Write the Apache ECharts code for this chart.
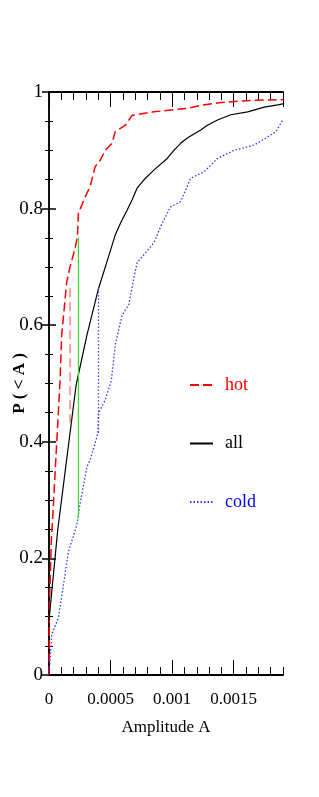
<!DOCTYPE html>
<html>
<head>
<meta charset="utf-8">
<script src="https://cdn.jsdelivr.net/npm/echarts@6/dist/echarts.min.js"></script>
<style>
html,body{margin:0;padding:0;background:#fff;}
#c{width:319px;height:797px;}
</style>
</head>
<body>
<div id="c"></div>
<script>
// ---- data ----
const hotX  = [0, 0.000003, 0.000020, 0.000033, 0.000063, 0.000090, 0.000103, 0.000144, 0.000171, 0.000212, 0.000231, 0.000239, 0.000294, 0.000334, 0.000375, 0.000416, 0.000457, 0.000511, 0.000538, 0.000620, 0.000675, 0.000851, 0.001123, 0.001232, 0.001395, 0.001666, 0.001909];
const hotY  = [0, 0.12, 0.235, 0.28, 0.40, 0.506, 0.583, 0.674, 0.70, 0.732, 0.752, 0.792, 0.820, 0.838, 0.872, 0.883, 0.900, 0.912, 0.932, 0.943, 0.960, 0.966, 0.972, 0.977, 0.982, 0.986, 0.987];
const allX  = [0, 0.0000710, 0.000220, 0.000308, 0.000402, 0.000471, 0.000538, 0.000585, 0.000634, 0.000675, 0.000715, 0.000769, 0.000851, 0.000960, 0.001014, 0.001069, 0.001123, 0.001232, 0.001286, 0.001368, 0.001476, 0.001613, 0.001748, 0.001857, 0.001909];
const allY  = [0.094, 0.249, 0.497, 0.583, 0.663, 0.709, 0.755, 0.777, 0.797, 0.815, 0.835, 0.849, 0.866, 0.886, 0.900, 0.912, 0.921, 0.935, 0.943, 0.952, 0.961, 0.966, 0.974, 0.978, 0.980];
const coldX = [0, 0.000022, 0.000076, 0.000117, 0.000157, 0.000226, 0.000253, 0.000308, 0.000334, 0.000375, 0.000397, 0.000402, 0.000457, 0.000506, 0.000538, 0.000593, 0.000647, 0.000688, 0.000715, 0.000851, 0.000919, 0.000987, 0.001069, 0.001150, 0.001259, 0.001368, 0.001503, 0.001666, 0.001776, 0.001843, 0.001898];
const coldY = [0, 0.069, 0.098, 0.154, 0.211, 0.257, 0.295, 0.357, 0.369, 0.398, 0.415, 0.449, 0.472, 0.505, 0.566, 0.617, 0.635, 0.680, 0.707, 0.741, 0.775, 0.803, 0.812, 0.852, 0.863, 0.886, 0.900, 0.909, 0.923, 0.932, 0.952];
// maximum-difference markers (vertical segments)
const ksHotColdX = [0.000239, 0.000239];
const ksHotColdY = [0.269, 0.751];
const ksHotAllX  = [0.000171, 0.000171];
const ksHotAllY  = [0.432, 0.665];
const ksColdAllX = [0.000402, 0.000402];
const ksColdAllY = [0.415, 0.667];
const xTickValues = [0, 0.0005, 0.001, 0.0015];
const xTickLabels = ['0', '0.0005', '0.001', '0.0015'];
const yTickValues = [0, 0.2, 0.4, 0.6, 0.8, 1];
const yTickLabels = ['0', '0.2', '0.4', '0.6', '0.8', '1'];
const seriesNames = ['hot', 'all', 'cold'];
const xName = 'Amplitude A';
const yName = 'P ( < A )';

const zip = (xs, ys) => xs.map((x, i) => [x, ys[i]]);
const FONT = '"Liberation Serif", serif';
const labelFor = (vals, labs) => v => {
  for (let i = 0; i < vals.length; i++) if (Math.abs(v - vals[i]) < 1e-9) return labs[i];
  return '';
};

const chart = echarts.init(document.getElementById('c'), null, {renderer: 'canvas'});
const common = {type: 'value', min: 0, splitLine: {show: false}};
const xBase = Object.assign({}, common, {max: 0.0019});
const yBase = Object.assign({}, common, {max: 1, interval: 0.2});

chart.setOption({
  animation: false,
  backgroundColor: '#fff',
  grid: {left: 49, right: 36, top: 92, bottom: 122, containLabel: false, outerBoundsMode: 'none'},
  legend: {
    orient: 'vertical', left: 189, top: 376, padding: 0,
    itemWidth: 23, itemHeight: 14, itemGap: 40.5,
    itemStyle: {opacity: 0},
    data: [
      {name: seriesNames[0], textStyle: {color: '#ff0000'}},
      {name: seriesNames[1], textStyle: {color: '#000'}},
      {name: seriesNames[2], textStyle: {color: '#0000ff'}}
    ],
    textStyle: {fontFamily: FONT, fontSize: 18, padding: [0, 0, 0, 7]}
  },
  xAxis: [
    Object.assign({}, xBase, {
      position: 'bottom', interval: 0.0005,
      axisLine: {show: true, lineStyle: {color: '#000', width: 2}},
      axisTick: {show: true, inside: true, length: 15, lineStyle: {color: '#000', width: 1}},
      axisLabel: {show: true, margin: 16, color: '#000', fontFamily: FONT, fontSize: 17,
        formatter: labelFor(xTickValues, xTickLabels), showMaxLabel: false},
      name: xName, nameLocation: 'middle', nameGap: 44, nameMoveOverlap: false,
      nameTextStyle: {color: '#000', fontFamily: FONT, fontSize: 17}
    }),
    Object.assign({}, xBase, {
      position: 'bottom', interval: 0.0001,
      axisLine: {show: false},
      axisTick: {show: true, inside: true, length: 8, lineStyle: {color: '#000', width: 1}},
      axisLabel: {show: false}
    }),
    Object.assign({}, xBase, {
      position: 'top', interval: 0.0005,
      axisLine: {show: true, lineStyle: {color: '#000', width: 2}},
      axisTick: {show: true, inside: true, length: 15, lineStyle: {color: '#000', width: 1}},
      axisLabel: {show: false}
    }),
    Object.assign({}, xBase, {
      position: 'top', interval: 0.0001,
      axisLine: {show: false},
      axisTick: {show: true, inside: true, length: 8, lineStyle: {color: '#000', width: 1}},
      axisLabel: {show: false}
    })
  ],
  yAxis: [
    Object.assign({}, yBase, {
      position: 'left',
      axisLine: {show: true, lineStyle: {color: '#000', width: 1.5}},
      axisTick: {show: true, inside: true, length: 7, lineStyle: {color: '#000', width: 1.5}},
      minorTick: {show: true, splitNumber: 4, length: 4, lineStyle: {color: '#000', width: 1}},
      axisLabel: {show: true, margin: 6, color: '#000', fontFamily: FONT, fontSize: 19,
        formatter: labelFor(yTickValues, yTickLabels)},
      name: yName, nameLocation: 'middle', nameGap: 21, nameRotate: 90, nameMoveOverlap: false,
      nameTextStyle: {color: '#000', fontFamily: FONT, fontSize: 17, fontWeight: 'bold'}
    }),
    Object.assign({}, yBase, {
      position: 'right',
      axisLine: {show: true, lineStyle: {color: '#000', width: 1.5}},
      axisTick: {show: true, inside: true, length: 7, lineStyle: {color: '#000', width: 1.5}},
      minorTick: {show: true, splitNumber: 4, length: 4, lineStyle: {color: '#000', width: 1}},
      axisLabel: {show: false}
    })
  ],
  series: [
    {name: seriesNames[0], type: 'line', data: zip(hotX, hotY), showSymbol: false, symbol: 'none',
     lineStyle: {color: '#ff0000', width: 1.5, type: [9, 4]}, itemStyle: {color: '#ff0000'}},
    {name: seriesNames[1], type: 'line', data: zip(allX, allY), showSymbol: false, symbol: 'none',
     lineStyle: {color: '#000', width: 1.2}, itemStyle: {color: '#000'}},
    {name: seriesNames[2], type: 'line', data: zip(coldX, coldY), showSymbol: false, symbol: 'none',
     lineStyle: {color: '#3333ff', width: 1.3, type: [1.5, 2]}, itemStyle: {color: '#3333ff'}},
    {name: 'ks1', type: 'line', data: zip(ksHotColdX, ksHotColdY), showSymbol: false, symbol: 'none',
     lineStyle: {color: '#33dd33', width: 1.2}, silent: true},
    {name: 'ks2', type: 'line', data: zip(ksHotAllX, ksHotAllY), showSymbol: false, symbol: 'none',
     lineStyle: {color: '#ffa0a0', width: 2, type: [9, 5]}, silent: true},
    {name: 'ks3', type: 'line', data: zip(ksColdAllX, ksColdAllY), showSymbol: false, symbol: 'none',
     lineStyle: {color: '#4444ff', width: 1.3, type: [1.5, 2]}, silent: true}
  ]
});
</script>
</body>
</html>
